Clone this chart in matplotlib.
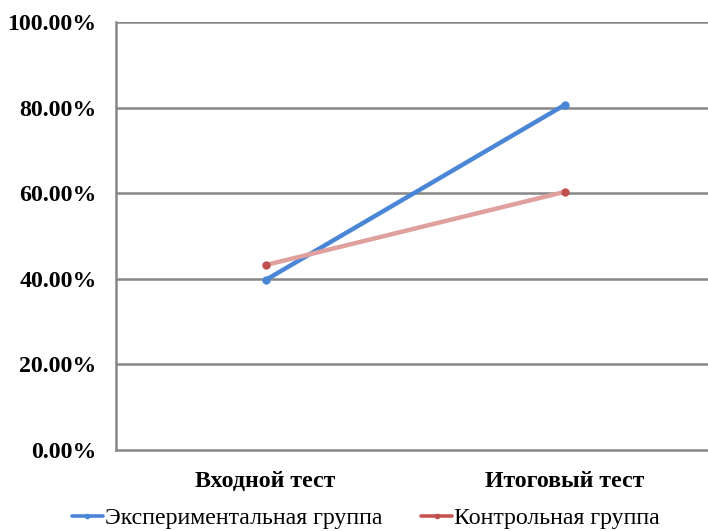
import matplotlib.pyplot as plt
from matplotlib.ticker import PercentFormatter

categories = ["Входной тест", "Итоговый тест"]
experimental = [39.7, 80.6]
control = [43.2, 60.3]
series_names = ["Экспериментальная группа", "Контрольная группа"]
y_ticks = [0, 20, 40, 60, 80, 100]

plt.rcParams['font.family'] = ['Liberation Serif', 'DejaVu Serif']

fig = plt.figure(figsize=(7.08, 5.31), dpi=100)
ax = fig.add_axes([116 / 708, 1 - 450 / 531, 598 / 708, 428 / 531])

x = [0.5, 1.5]
ax.plot(x, experimental, color='#4A86D6', lw=3.2, marker='o', ms=5,
        mfc='#4A86D6', mec='#4A86D6', solid_capstyle='round',
        label=series_names[0], zorder=3)
ax.plot(x, control, color='#E0A09E', lw=3.2, marker='o', ms=5,
        mfc='#C0504D', mec='#C0504D', solid_capstyle='round',
        label=series_names[1], zorder=3)

ax.set_xlim(0, 2)
ax.set_ylim(0, 100)
ax.set_yticks(y_ticks)
ax.yaxis.set_major_formatter(PercentFormatter(decimals=2))
ax.set_xticks(x)
ax.set_xticklabels(categories)

for y in y_ticks[1:]:
    ax.axhline(y, color='#878787', lw=1.8, zorder=1)

for side in ['top', 'right']:
    ax.spines[side].set_visible(False)
ax.spines['left'].set_color('#878787')
ax.spines['left'].set_linewidth(1.8)
ax.spines['bottom'].set_color('#878787')
ax.spines['bottom'].set_linewidth(1.8)

ax.tick_params(axis='both', length=0, labelsize=17.2)
ax.tick_params(axis='y', pad=14)
ax.tick_params(axis='x', pad=15)
for lab in ax.get_yticklabels() + ax.get_xticklabels():
    lab.set_fontweight('bold')

leg = fig.legend(loc='center', bbox_to_anchor=(366 / 708, 1 - 518 / 531),
                 ncol=2, frameon=False, fontsize=17.2, handlelength=1.3,
                 handletextpad=0.1, columnspacing=1.6, borderaxespad=0,
                 markerscale=0.6)
legend_lines = leg.get_lines()
for line in legend_lines:
    line.set_linewidth(2.6)
legend_lines[1].set_color('#C65552')

fig.savefig('out.png', dpi=100)
